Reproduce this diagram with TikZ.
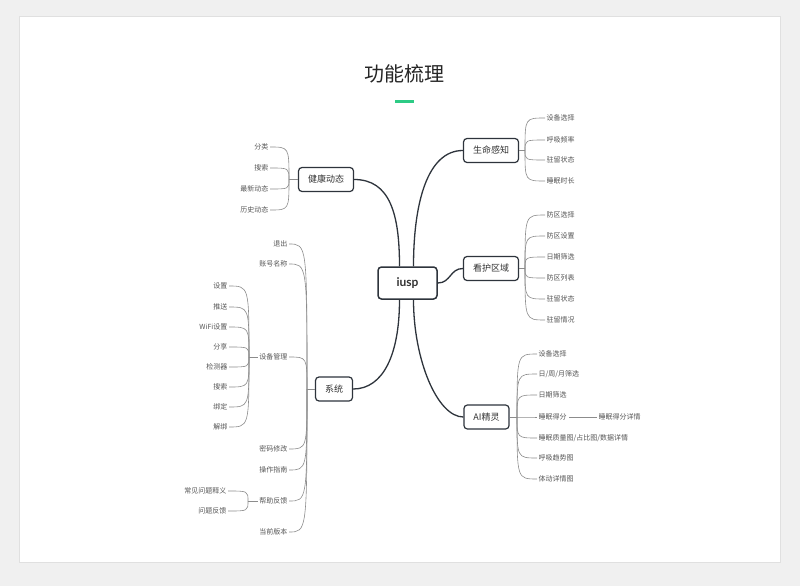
\documentclass[tikz,border=0pt]{standalone}
\usepackage{fontspec}
\setmainfont{Noto Sans CJK SC}
\newfontfamily\latof{Lato}
\usetikzlibrary{calc}
\definecolor{boxc}{HTML}{2E343C}
\definecolor{txt}{HTML}{333333}
\definecolor{leaftxt}{HTML}{555555}
\definecolor{linec}{HTML}{8C8C8C}
\definecolor{accent}{HTML}{2DCB85}
\definecolor{pagebg}{HTML}{F0F0F0}
\begin{document}
\begin{tikzpicture}[x=1pt,y=-1pt,
  box/.style={draw=boxc, line width=1.2pt, rounded corners=3.5pt, fill=white,
    font=\fontsize{9}{10}\selectfont, text=txt, inner xsep=9.5pt, inner ysep=0pt, minimum height=24pt},
  leafl/.style={font=\fontsize{7}{8}\selectfont, text=leaftxt, inner sep=1.5pt, anchor=east},
  leafr/.style={font=\fontsize{7}{8}\selectfont, text=leaftxt, inner sep=1.5pt, anchor=west},
  mainc/.style={draw=boxc, line width=1.3pt},
  thinc/.style={draw=linec, line width=0.6pt}]

% page
\fill[pagebg] (0,0) rectangle (800,586);
\useasboundingbox (0,0) rectangle (800,586);
\filldraw[fill=white, draw=black!12, line width=0.5pt] (19.5,16.5) rectangle (780,562);

% title
\node[font=\fontsize{20}{22}\selectfont, text=black!85] (title) at (404,74) {功能梳理};
\node[fill=accent, minimum width=19pt, minimum height=3pt, inner sep=0pt] (bar) at (404.5,101) {};

% main nodes
\node[box, line width=1.5pt, minimum width=59pt, minimum height=32pt, font=\latof\bfseries\fontsize{12}{14}\selectfont] (iusp) at (407.5,283) {iusp};
\node[box] (jk) at (326,179.5) {健康动态};
\node[box] (sm) at (491,150.5) {生命感知};
\node[box] (kh) at (491,268.5) {看护区域};
\node[box] (ai) at (486.5,417) {AI精灵};
\node[box] (xt) at (334,389) {系统};

% main connectors
\draw[mainc] ($(iusp.north)+(-8,0)$) .. controls +(0,-52) and +(36,0) .. (jk.east);
\draw[mainc] ($(iusp.north)+(6,0)$) .. controls +(0,-62) and +(-36,0) .. (sm.west);
\draw[mainc] (iusp.east) .. controls +(13,0) and +(-13,0) .. (kh.west);
\draw[mainc] ($(iusp.south)+(-8,0)$) .. controls +(0,55) and +(30,0) .. (xt.east);
\draw[mainc] ($(iusp.south)+(6,0)$) .. controls +(0,60) and +(-26,0) .. (ai.west);

% ---------- 生命感知 ----------
\coordinate (jsm) at (525,150.5);
\draw[thinc] (sm.east) -- (jsm);
\node[leafr] (sm1) at (545,118) {设备选择};
\node[leafr] (sm2) at (545,140) {呼吸频率};
\node[leafr] (sm3) at (545,160) {驻留状态};
\node[leafr] (sm4) at (545,181) {睡眠时长};
\foreach \n in {sm1,sm2,sm3,sm4}
  \draw[thinc] (jsm) .. controls (jsm |- \n.west) .. (\n.west);

% ---------- 看护区域 ----------
\coordinate (jkh) at (525,268.5);
\draw[thinc] (kh.east) -- (jkh);
\node[leafr] (kh1) at (545,215) {防区选择};
\node[leafr] (kh2) at (545,236) {防区设置};
\node[leafr] (kh3) at (545,257) {日期筛选};
\node[leafr] (kh4) at (545,278) {防区列表};
\node[leafr] (kh5) at (545,299) {驻留状态};
\node[leafr] (kh6) at (545,320) {驻留情况};
\foreach \n in {kh1,kh2,kh3,kh4,kh5,kh6}
  \draw[thinc] (jkh) .. controls (jkh |- \n.west) .. (\n.west);

% ---------- AI精灵 ----------
\coordinate (jai) at (517,417);
\draw[thinc] (ai.east) -- (jai);
\node[leafr] (ai1) at (537,354) {设备选择};
\node[leafr] (ai2) at (537,374) {日/周/月筛选};
\node[leafr] (ai3) at (537,395) {日期筛选};
\node[leafr] (ai4) at (537,417) {睡眠得分};
\node[leafr] (ai5) at (537,438) {睡眠质量图/占比图/数据详情};
\node[leafr] (ai6) at (537,458) {呼吸趋势图};
\node[leafr] (ai7) at (537,479) {体动详情图};
\foreach \n in {ai1,ai2,ai3,ai4,ai5,ai6,ai7}
  \draw[thinc] (jai) .. controls (jai |- \n.west) .. (\n.west);
\node[leafr] (ai41) at (597,417) {睡眠得分详情};
\draw[thinc] ($(ai4.east)+(1,0)$) -- (ai41.west);

% ---------- 健康动态 ----------
\coordinate (jjk) at (289,179.5);
\draw[thinc] (jk.west) -- (jjk);
\node[leafl] (jk1) at (270,147) {分类};
\node[leafl] (jk2) at (270,168) {搜索};
\node[leafl] (jk3) at (270,189) {最新动态};
\node[leafl] (jk4) at (270,210) {历史动态};
\foreach \n in {jk1,jk2,jk3,jk4}
  \draw[thinc] (jjk) .. controls (jjk |- \n.east) .. (\n.east);

% ---------- 系统 ----------
\coordinate (jxt) at (307,389);
\draw[thinc] (xt.west) -- (jxt);
\node[leafl] (xt1) at (289,244) {退出};
\node[leafl] (xt2) at (289,264) {账号名称};
\node[leafl] (xt3) at (289,357) {设备管理};
\node[leafl] (xt4) at (289,449) {密码修改};
\node[leafl] (xt5) at (289,470) {操作指南};
\node[leafl] (xt6) at (289,501) {帮助反馈};
\node[leafl] (xt7) at (289,532) {当前版本};
\foreach \n in {xt1,xt2,xt3,xt4,xt5,xt6,xt7}
  \draw[thinc] (jxt) .. controls (jxt |- \n.east) .. (\n.east);

% 设备管理
\coordinate (jsb) at (249,357);
\draw[thinc] (xt3.west) -- (jsb);
\node[leafl] (sb1) at (229,286) {设置};
\node[leafl] (sb2) at (229,307) {推送};
\node[leafl] (sb3) at (229,327) {WiFi设置};
\node[leafl] (sb4) at (229,347) {分享};
\node[leafl] (sb5) at (229,367) {检测器};
\node[leafl] (sb6) at (229,387) {搜索};
\node[leafl] (sb7) at (229,407) {绑定};
\node[leafl] (sb8) at (229,427) {解绑};
\foreach \n in {sb1,sb2,sb3,sb4,sb5,sb6,sb7,sb8}
  \draw[thinc] (jsb) .. controls (jsb |- \n.east) .. (\n.east);

% 帮助反馈
\coordinate (jbz) at (248,501);
\draw[thinc] (xt6.west) -- (jbz);
\node[leafl] (bz1) at (228,491) {常见问题释义};
\node[leafl] (bz2) at (228,511) {问题反馈};
\foreach \n in {bz1,bz2}
  \draw[thinc] (jbz) .. controls (jbz |- \n.east) .. (\n.east);
\end{tikzpicture}
\end{document}
